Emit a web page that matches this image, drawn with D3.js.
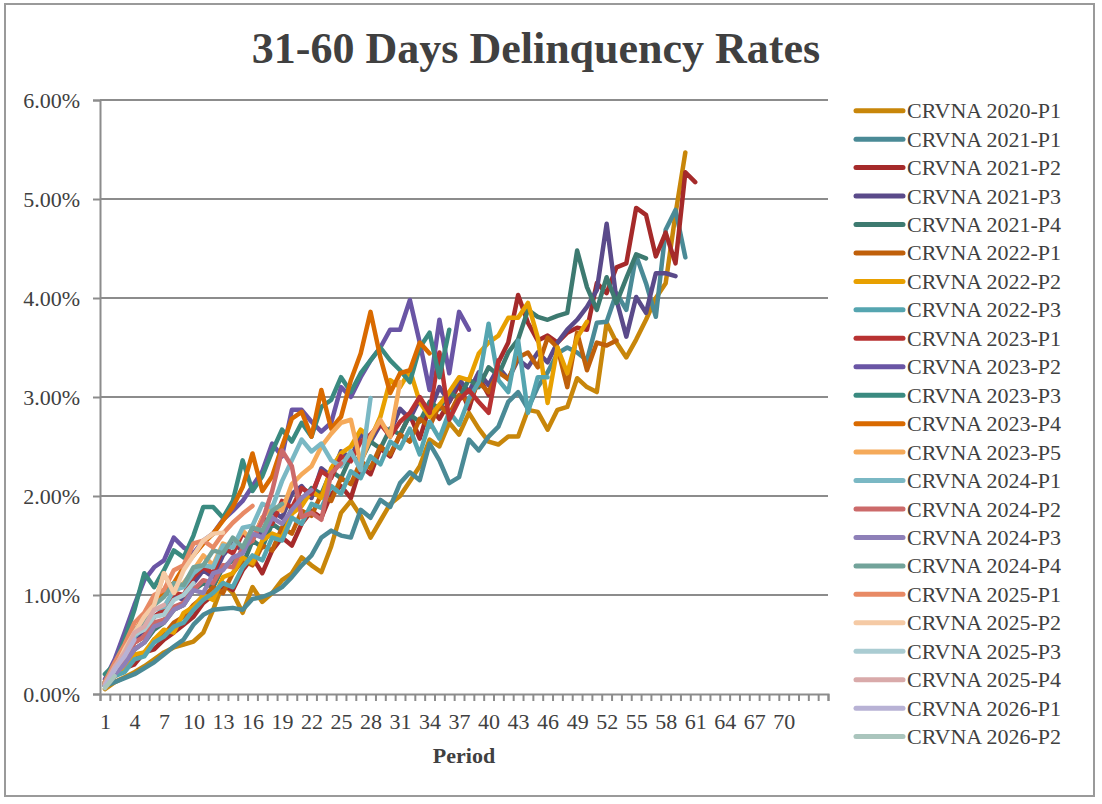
<!DOCTYPE html>
<html>
<head>
<meta charset="utf-8">
<script src="https://cdn.jsdelivr.net/npm/d3@7"></script>
<style>
  body { margin: 0; background: #fff; }
  text { font-family: "Liberation Serif", "Times New Roman", serif; fill: #404040; }
</style>
</head>
<body>
<div id="chart"></div>
<script>
// ----------------------
// Data (31-60 day delinquency, in %)
// ----------------------
const periods = d3.range(1, 75);
const xTickLabels = d3.range(1, 71, 3);
const yTicks = [0, 0.01, 0.02, 0.03, 0.04, 0.05, 0.06];

const seriesNames = [
  "CRVNA 2020-P1", "CRVNA 2021-P1", "CRVNA 2021-P2", "CRVNA 2021-P3", "CRVNA 2021-P4",
  "CRVNA 2022-P1", "CRVNA 2022-P2", "CRVNA 2022-P3", "CRVNA 2023-P1", "CRVNA 2023-P2",
  "CRVNA 2023-P3", "CRVNA 2023-P4", "CRVNA 2023-P5", "CRVNA 2024-P1", "CRVNA 2024-P2",
  "CRVNA 2024-P3", "CRVNA 2024-P4", "CRVNA 2025-P1", "CRVNA 2025-P2", "CRVNA 2025-P3",
  "CRVNA 2025-P4", "CRVNA 2026-P1", "CRVNA 2026-P2"
];

const seriesColors = [
  "#c8860a", "#4a8a96", "#a52a2a", "#5a4a8a", "#3d7a70",
  "#c0600a", "#e8a000", "#55a5b0", "#b83232", "#6a55a5",
  "#3a8a80", "#d96a00", "#f5aa5a", "#7ab8c4", "#cc6a6a",
  "#8e80b8", "#72a39a", "#e88a65", "#f5caa5", "#aaccd2",
  "#d9aaaa", "#b8b2d5", "#aac5bd"
];

const s2020P1 = [0.05,0.12,0.17,0.22,0.28,0.35,0.42,0.47,0.50,0.53,
  0.62,0.85,1.12,1.02,0.82,1.08,0.93,1.02,1.15,1.22,
  1.38,1.30,1.23,1.49,1.83,1.95,1.80,1.58,1.75,1.92,
  2.00,2.15,2.30,2.57,2.50,2.74,2.62,2.84,2.68,2.55,
  2.52,2.60,2.60,2.87,2.85,2.67,2.87,2.90,3.19,3.10,
  3.05,3.75,3.55,3.40,3.58,3.78,4.00,4.15,4.85,5.47];
const s2021P1 = [0.08,0.12,0.16,0.20,0.26,0.32,0.40,0.48,0.55,0.70,
  0.80,0.85,0.86,0.87,0.85,0.96,0.98,1.02,1.08,1.18,
  1.30,1.40,1.58,1.65,1.60,1.58,1.86,1.78,1.96,1.89,
  2.13,2.24,2.16,2.53,2.36,2.13,2.19,2.57,2.46,2.60,
  2.70,2.95,3.05,2.88,3.10,3.25,3.44,3.50,3.45,3.37,
  3.75,3.76,4.05,3.88,4.43,4.15,3.81,4.69,4.89,4.41];
const s2021P2 = [0.10,0.18,0.26,0.30,0.42,0.45,0.55,0.62,0.70,0.78,
  0.92,1.00,1.10,1.05,1.25,1.38,1.22,1.45,1.58,1.50,
  1.72,1.85,1.78,2.02,2.10,1.98,2.30,2.22,2.48,2.40,
  2.62,2.82,2.58,2.90,2.78,2.95,3.12,2.88,3.20,3.02,
  3.35,3.55,4.03,3.75,3.57,3.62,3.55,3.65,3.70,3.68,
  4.15,4.05,4.31,4.35,4.91,4.84,4.42,4.66,4.35,5.27,5.17];
const s2021P3 = [0.12,0.25,0.38,0.55,0.65,0.78,0.85,1.00,0.95,1.12,
  1.25,1.18,1.40,1.52,1.45,1.68,1.62,1.85,1.78,2.02,
  2.10,1.98,2.28,2.20,2.45,2.38,2.62,2.55,2.72,2.65,
  2.88,2.78,2.98,2.85,3.10,2.95,3.18,3.05,3.25,3.12,
  3.30,3.18,3.38,3.30,3.45,3.35,3.55,3.68,3.78,3.91,
  4.08,4.75,3.98,3.61,4.01,3.85,4.25,4.25,4.22];
const s2021P4 = [0.10,0.22,0.32,0.45,0.52,0.65,0.72,0.85,0.90,1.05,
  1.12,1.08,1.28,1.35,1.30,1.55,1.48,1.72,1.65,1.88,
  1.95,2.08,2.02,2.25,2.18,2.40,2.35,2.55,2.48,2.68,
  2.62,2.82,2.75,2.95,2.88,3.05,2.98,3.18,3.10,3.30,
  3.22,3.45,3.58,3.88,3.81,3.78,3.82,3.85,4.48,4.11,
  3.88,4.21,3.95,4.20,4.44,4.40];
const s2022P1 = [0.08,0.18,0.25,0.35,0.40,0.55,0.60,0.72,0.78,0.90,
  0.98,1.08,1.02,1.22,1.35,1.30,1.50,1.45,1.68,1.62,
  1.85,1.80,2.02,1.95,2.18,2.12,2.35,2.28,2.50,2.42,
  2.62,2.55,2.78,2.70,2.92,2.82,3.02,2.95,3.15,3.05,
  3.25,3.18,3.40,3.45,3.30,3.60,3.50,3.10,3.65,3.27,
  3.55,3.52,3.57];
const s2022P2 = [0.10,0.20,0.25,0.40,0.42,0.55,0.65,0.62,0.82,0.88,
  1.00,0.95,1.18,1.22,1.38,1.32,1.55,1.62,1.58,1.82,
  1.90,2.05,1.98,2.28,2.43,2.50,2.67,2.58,2.80,3.17,
  3.10,3.27,2.95,2.80,2.92,3.05,3.20,3.17,3.44,3.55,
  3.62,3.80,3.80,3.95,3.60,2.94,3.50,3.24,3.60,3.76];
const s2022P3 = [0.08,0.18,0.22,0.35,0.38,0.52,0.58,0.68,0.72,0.85,
  0.95,1.02,1.12,1.08,1.28,1.40,1.35,1.58,1.55,1.78,
  1.72,1.92,1.88,2.10,2.02,2.25,2.18,2.40,2.32,2.55,
  2.48,2.68,2.42,2.75,2.58,2.85,2.72,2.98,3.15,3.74,
  3.17,3.05,3.57,2.84,3.20,3.20];
const s2023P1 = [0.10,0.25,0.32,0.52,0.58,0.78,0.85,1.02,1.00,1.18,
  1.28,1.22,1.48,1.42,1.62,1.55,1.78,1.72,1.95,1.88,
  2.08,2.02,2.25,2.18,2.40,2.35,2.55,2.62,2.73,2.60,
  2.75,2.84,3.00,2.84,3.45,2.77,2.97,3.07,2.95,2.84,3.37];
const s2023P2 = [0.15,0.35,0.62,0.90,1.15,1.28,1.35,1.58,1.48,1.42,
  1.55,1.62,1.76,1.85,1.95,2.10,2.25,2.53,2.40,2.87,
  2.87,2.75,2.65,2.74,3.10,3.00,3.20,3.37,3.50,3.68,
  3.68,3.98,3.55,3.07,3.78,3.24,3.86,3.68];
const s2023P3 = [0.20,0.30,0.55,0.85,1.22,1.08,1.25,1.45,1.38,1.60,
  1.89,1.89,1.78,1.95,2.36,2.05,2.20,2.45,2.67,2.55,
  2.74,2.60,2.90,2.97,3.20,3.05,3.24,3.37,3.50,3.37,
  3.27,3.15,3.50,3.65,3.20,3.68];
const s2023P4 = [0.12,0.28,0.45,0.62,0.80,0.92,1.05,1.12,1.28,1.40,
  1.52,1.62,1.75,1.89,2.09,2.43,2.05,2.20,2.50,2.78,
  2.85,2.60,3.07,2.68,2.80,3.17,3.44,3.86,3.40,3.04,
  3.24,3.27,3.55,3.44];
const s2023P5 = [0.10,0.25,0.38,0.60,0.72,0.90,1.22,1.02,1.12,1.25,
  1.40,1.30,1.52,1.48,1.65,1.55,1.78,1.90,1.85,2.12,
  2.22,2.30,2.50,2.63,2.74,2.77,2.33,2.60,2.77,2.60,3.15];
const s2024P1 = [0.10,0.28,0.42,0.58,0.68,0.85,0.88,1.05,1.08,1.22,
  1.30,1.28,1.50,1.48,1.68,1.70,1.92,1.88,2.15,2.36,
  2.57,2.45,2.53,2.36,2.30,2.45,2.26,2.99];
const s2024P2 = [0.10,0.25,0.35,0.52,0.58,0.72,0.75,0.88,0.92,1.05,
  1.15,1.12,1.30,1.28,1.48,1.55,1.75,2.05,2.46,2.30,
  1.79,1.83,1.76,2.23,2.33];
const s2024P3 = [0.08,0.20,0.30,0.45,0.52,0.68,0.72,0.85,0.90,1.05,
  1.02,1.22,1.25,1.38,1.42,1.62,1.58,1.78,1.72,1.86,1.98,2.06];
const s2024P4 = [0.12,0.30,0.45,0.65,0.72,0.90,0.98,1.12,1.10,1.28,
  1.30,1.45,1.42,1.58,1.48,1.68,1.65,1.85,1.92];
const s2025P1 = [0.12,0.32,0.50,0.72,0.82,1.00,1.05,1.25,1.30,1.52,
  1.55,1.48,1.62,1.73,1.82,1.90];
const s2025P2 = [0.10,0.25,0.45,0.62,0.78,0.90,1.22,1.02,1.25,1.40,
  1.55,1.62,1.63];
const s2025P3 = [0.08,0.25,0.40,0.60,0.65,0.78,0.80,0.95,1.00,1.12];
const s2025P4 = [0.10,0.28,0.42,0.62,0.68,0.85,0.90];
const s2026P1 = [0.08,0.25,0.38,0.55];
const s2026P2 = [0.06,0.18];

const seriesValues = [
  s2020P1, s2021P1, s2021P2, s2021P3, s2021P4, s2022P1, s2022P2, s2022P3,
  s2023P1, s2023P2, s2023P3, s2023P4, s2023P5, s2024P1, s2024P2, s2024P3,
  s2024P4, s2025P1, s2025P2, s2025P3, s2025P4, s2026P1, s2026P2
];

// ----------------------
// Chart setup
// ----------------------
const width = 1102, height = 804;
const plot = { left: 100, right: 828, top: 100, bottom: 694 };

const svg = d3.select("#chart")
  .append("svg")
  .attr("width", width)
  .attr("height", height);

// outer frame
svg.append("rect")
  .attr("x", 5).attr("y", 4)
  .attr("width", 1089).attr("height", 792)
  .attr("fill", "#fff")
  .attr("stroke", "#9a9a9a")
  .attr("stroke-width", 2);

svg.append("text")
  .attr("x", 536).attr("y", 63)
  .attr("text-anchor", "middle")
  .style("font-size", "44px")
  .style("font-weight", "bold")
  .text("31-60 Days Delinquency Rates");

const x = d3.scaleLinear()
  .domain([0.5, periods.length + 0.5])
  .range([plot.left, plot.right]);

const y = d3.scaleLinear()
  .domain([0, 0.06])
  .range([plot.bottom, plot.top]);

// gridlines
svg.append("g")
  .selectAll("line")
  .data(yTicks.slice(1))
  .enter()
  .append("line")
  .attr("x1", plot.left).attr("x2", plot.right)
  .attr("y1", d => y(d)).attr("y2", d => y(d))
  .attr("stroke", "#8c8c8c")
  .attr("stroke-width", 2);

// y axis
const yAxis = svg.append("g")
  .attr("transform", `translate(${plot.left},0)`)
  .call(d3.axisLeft(y).tickValues(yTicks).tickFormat(d3.format(".2%")).tickSize(7).tickPadding(13));
yAxis.selectAll("path, line").attr("stroke", "#8c8c8c").attr("stroke-width", 2);
yAxis.selectAll("text").style("font-size", "22px").attr("fill", "#404040")
  .style("font-family", '"Liberation Serif", serif');

// x axis: ticks between categories, labels every 3rd
const xAxis = svg.append("g")
  .attr("transform", `translate(0,${plot.bottom})`)
  .call(d3.axisBottom(x).tickValues(d3.range(0.5, periods.length + 1, 1)).tickFormat("").tickSize(7));
xAxis.selectAll("path, line").attr("stroke", "#8c8c8c").attr("stroke-width", 2);

const xLabels = svg.append("g")
  .attr("transform", `translate(0,${plot.bottom})`)
  .call(d3.axisBottom(x).tickValues(xTickLabels).tickFormat(d3.format("d")).tickSize(0).tickPadding(19));
xLabels.select(".domain").remove();
xLabels.selectAll("text").style("font-size", "22px").attr("fill", "#404040")
  .style("font-family", '"Liberation Serif", serif');

svg.append("text")
  .attr("x", 464).attr("y", 763)
  .attr("text-anchor", "middle")
  .style("font-size", "22px")
  .style("font-weight", "bold")
  .text("Period");

// ----------------------
// Lines
// ----------------------
const line = d3.line()
  .x((d, i) => x(periods[i]))
  .y(d => y(d / 100));

svg.append("g")
  .selectAll("path")
  .data(seriesValues)
  .enter()
  .append("path")
  .attr("d", d => line(d))
  .attr("fill", "none")
  .attr("stroke", (d, i) => seriesColors[i])
  .attr("stroke-width", 4.5)
  .attr("stroke-linejoin", "round")
  .attr("stroke-linecap", "round");

// ----------------------
// Legend
// ----------------------
const legend = svg.append("g")
  .selectAll("g")
  .data(seriesNames)
  .enter()
  .append("g")
  .attr("transform", (d, i) => `translate(856,${110.7 + i * 28.45})`);

legend.append("line")
  .attr("x1", 0).attr("x2", 47)
  .attr("stroke", (d, i) => seriesColors[i])
  .attr("stroke-width", 5)
  .attr("stroke-linecap", "round");

legend.append("text")
  .attr("x", 51).attr("y", 7.5)
  .style("font-size", "22px")
  .text(d => d);
</script>
</body>
</html>
